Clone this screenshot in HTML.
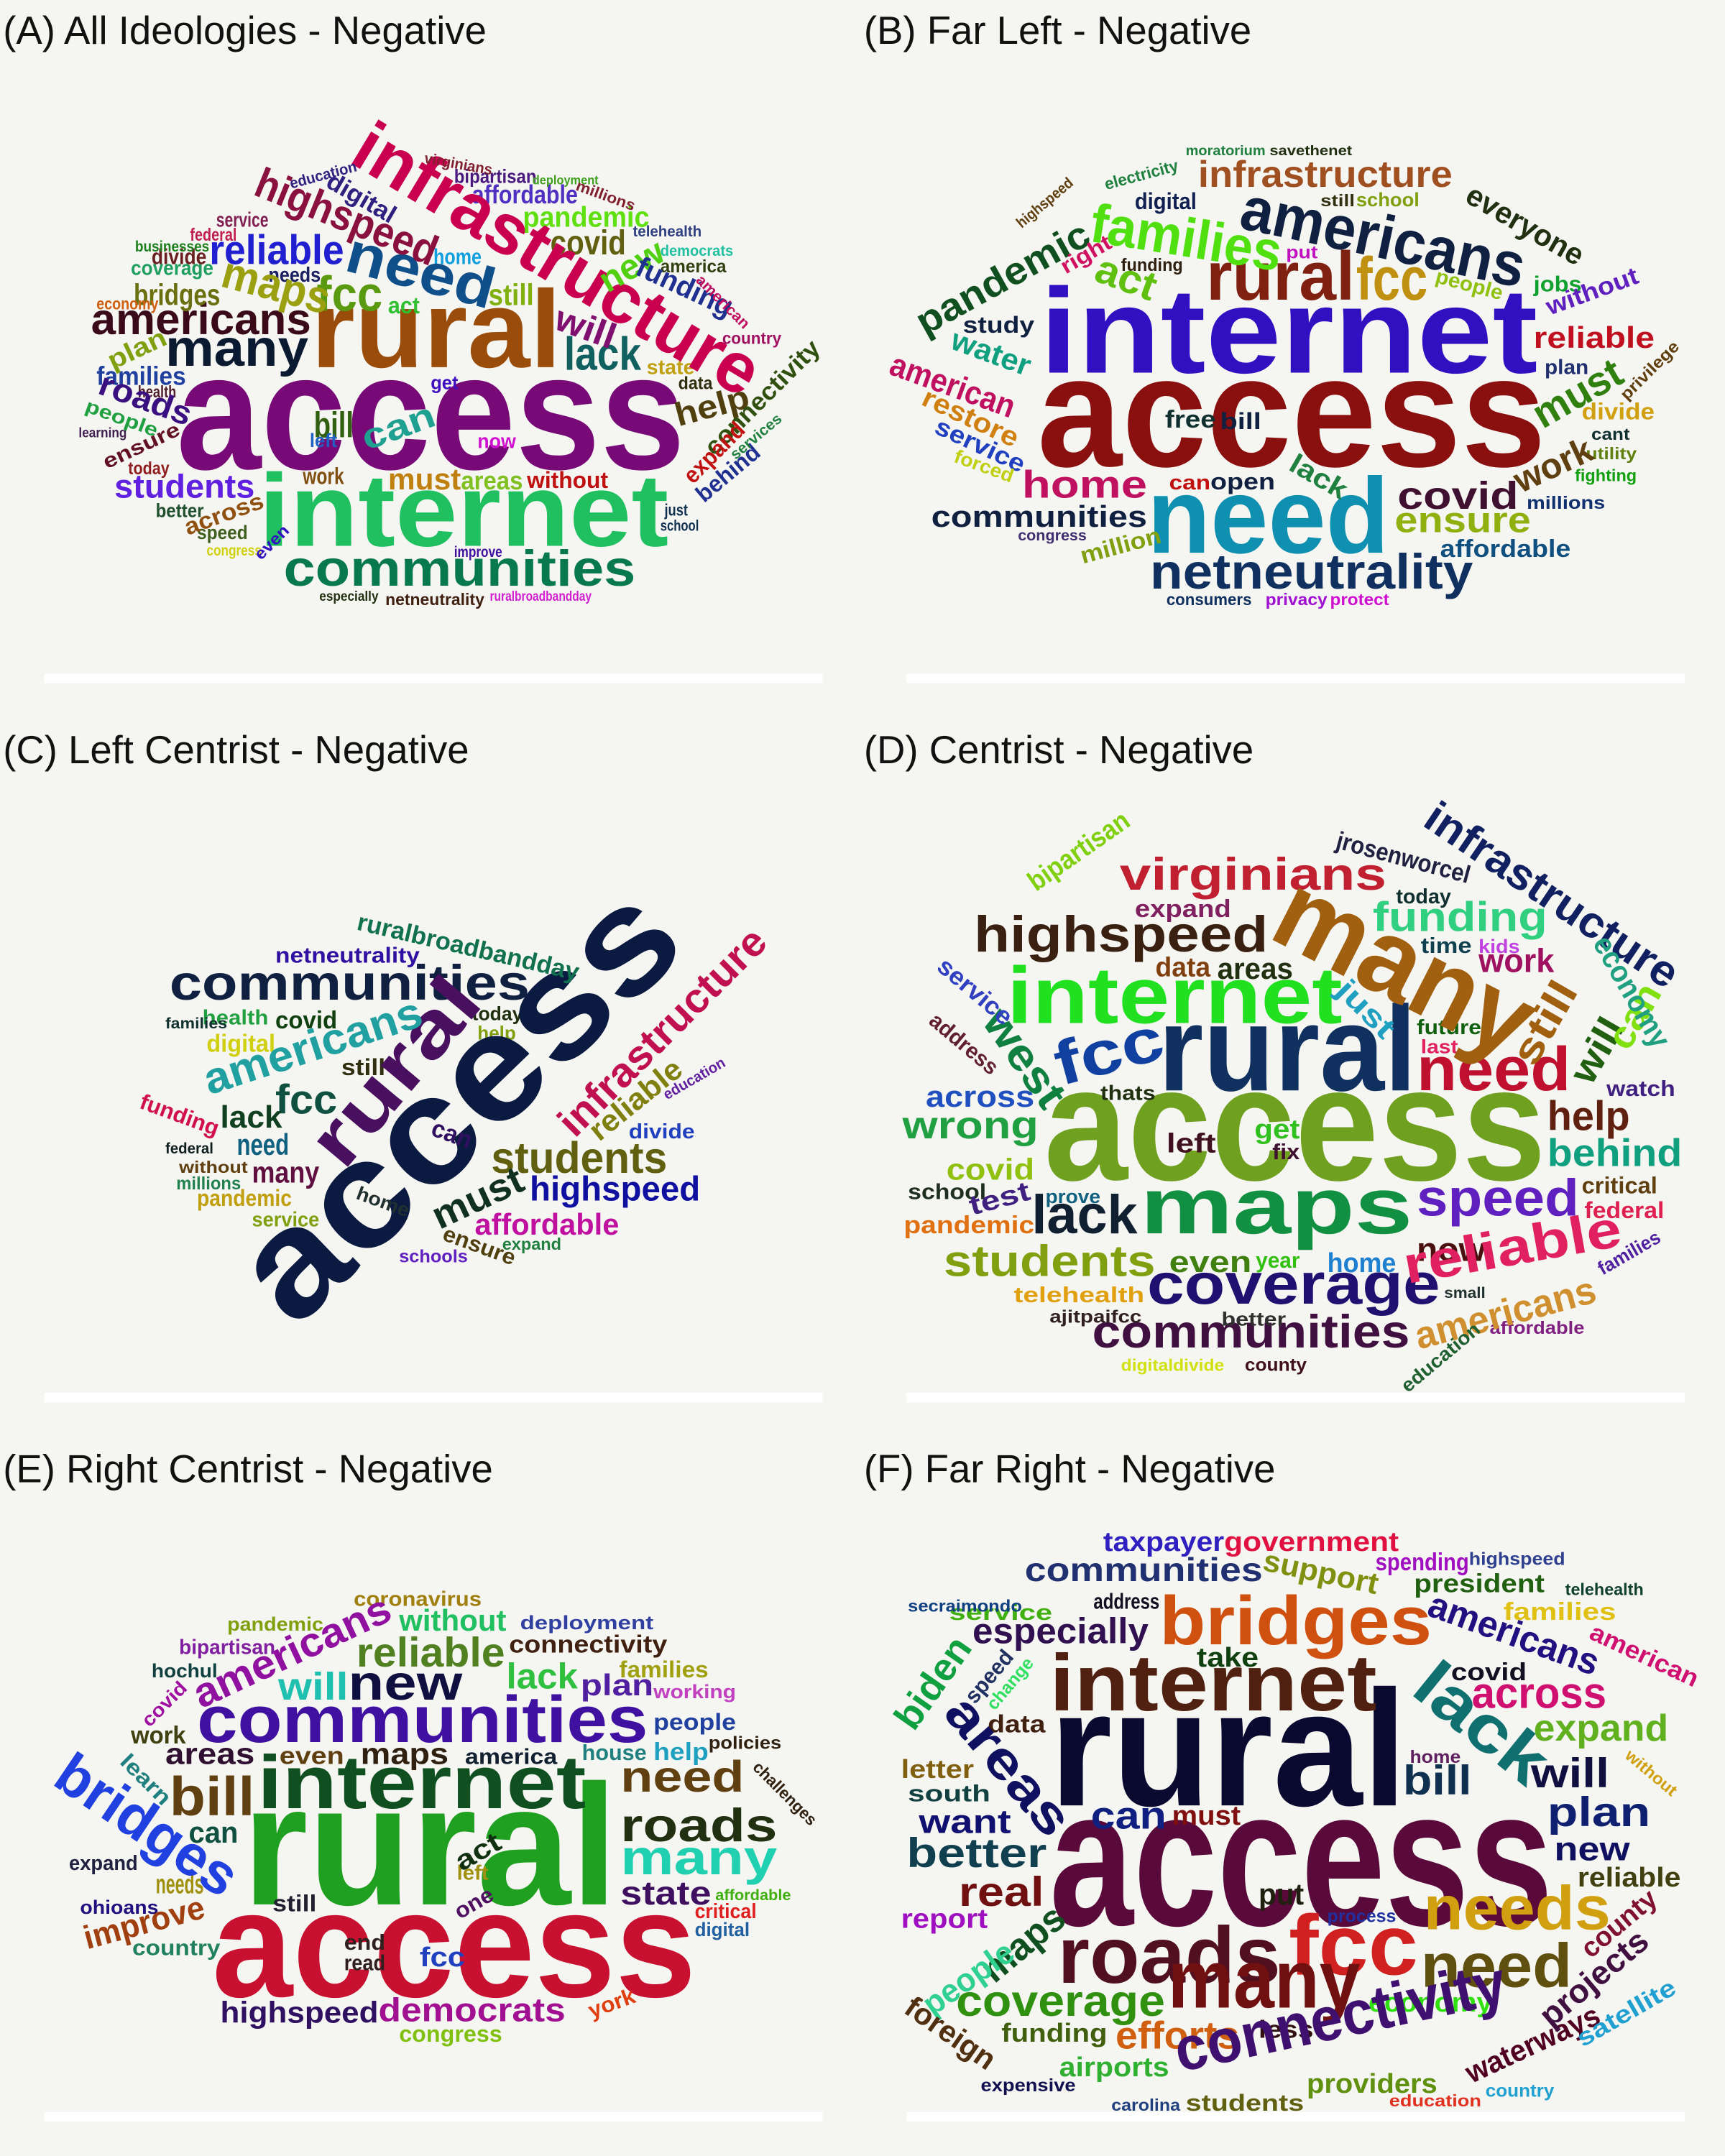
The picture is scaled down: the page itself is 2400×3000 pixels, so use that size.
<!DOCTYPE html>
<html><head><meta charset="utf-8"><style>
html,body{margin:0;padding:0;background:#f5f5f1;}
svg{display:block}
.t{font-family:"Liberation Sans",sans-serif;font-size:28.5px;fill:#111}
.w{font-family:"Liberation Sans","DejaVu Sans",sans-serif;font-weight:bold}
</style></head><body>
<svg id="root" width="2400" height="3000" viewBox="0 0 1254 1568" xmlns="http://www.w3.org/2000/svg">
<rect width="1254" height="1568" fill="#f5f5f1"/>
<text class="t" x="2" y="32">(A) All Ideologies - Negative</text>
<text class="t" x="628" y="32">(B) Far Left - Negative</text>
<text class="t" x="2" y="555">(C) Left Centrist - Negative</text>
<text class="t" x="628" y="555">(D) Centrist - Negative</text>
<text class="t" x="2" y="1078">(E) Right Centrist - Negative</text>
<text class="t" x="628" y="1078">(F) Far Right - Negative</text>
<rect x="32" y="490" width="566" height="7" fill="#fff"/>
<rect x="659" y="490" width="566" height="7" fill="#fff"/>
<rect x="32" y="1013" width="566" height="7" fill="#fff"/>
<rect x="659" y="1013" width="566" height="7" fill="#fff"/>
<rect x="32" y="1536" width="566" height="7" fill="#fff"/>
<rect x="659" y="1536" width="566" height="7" fill="#fff"/>
<g id="words"></g>
</svg>
<script>
// H: [text, left, right, baseline, size, color]; R: [text, cx, cy, size, color, rotation, length]
const H = [
// A
["access",128,498,341,120,"#780a78"],["internet",188,486,397,75,"#20c060"],["rural",226,408,267,80,"#9a4c0a"],
["communities",206,462,426,37,"#087850"],["americans",66,226,243,32,"#3a0a1a"],["many",120,224,266,38,"#0a1a30"],
["reliable",152,250,192,30,"#2020d0"],["fcc",230,278,226,36,"#5a9a10"],["lack",410,466,269,34,"#106060"],
["students",83,185,362,24,"#6020e0"],["bill",228,257,318,26,"#306010"],["must",282,335,356,22,"#c08010"],
["areas",335,380,356,19,"#80c020"],["without",383,442,355,17,"#c01010"],["covid",400,455,185,25,"#606010"],
["pandemic",380,472,165,21,"#60e010"],["affordable",343,420,148,19,"#5030c0"],["bipartisan",330,390,133,14,"#4a1a80"],
["bridges",97,160,222,22,"#6a7010"],["still",355,388,222,22,"#80b010"],["families",70,135,280,19,"#2040a0"],
["coverage",95,155,200,15,"#20a060"],["divide",110,150,192,16,"#6a2020"],["businesses",98,152,183,11,"#208020"],
["federal",138,172,175,13,"#c02050"],["service",157,195,165,15,"#802050"],["economy",70,115,225,12,"#d06010"],
["work",220,250,352,17,"#805010"],["today",93,123,345,13,"#902020"],["speed",143,180,392,14,"#406020"],
["congress",150,190,404,11,"#d0d010"],["now",347,375,326,15,"#d010d0"],["state",470,505,272,15,"#c0a010"],
["just",483,500,375,12,"#103050"],["school",480,508,386,11,"#103050"],["netneutrality",280,352,440,12,"#402010"],
["ruralbroadbandday",356,430,437,10,"#d020d0"],["especially",232,275,437,10,"#203010"],["home",315,350,192,16,"#10a0e0"],
["country",525,568,250,12,"#a01060"],["data",493,518,283,13,"#303010"],["america",480,528,198,13,"#304010"],
["telehealth",460,510,172,11,"#304080"],["democrats",480,533,186,11,"#20c0a0"],["left",225,245,325,14,"#2060c0"],
["get",313,333,283,14,"#4010c0"],["learning",57,92,318,10,"#402050"],["needs",195,233,205,15,"#1a2060"],
["act",282,305,228,17,"#30c030"],["better",113,148,376,14,"#205030"],["deployment",387,435,134,9,"#40a020"],
["improve",330,365,405,11,"#4010a0"],["health",100,128,289,12,"#502030"],
// B
["access",754,1124,339,115,"#8a1010"],["internet",756,1118,271,88,"#3010c0"],["need",834,1010,402,78,"#1090b0"],
["netneutrality",836,1071,428,36,"#103060"],["rural",877,985,218,50,"#802010"],["fcc",986,1038,218,44,"#c09010"],
["infrastructure",871,1056,136,27,"#a05020"],["digital",825,870,152,17,"#102050"],["home",743,834,362,28,"#c01060"],
["communities",677,834,383,22,"#102040"],["covid",1016,1104,370,28,"#401030"],["ensure",1014,1113,387,26,"#90b010"],
["affordable",1047,1142,405,18,"#105080"],["reliable",1115,1203,253,22,"#c01020"],["study",700,752,242,17,"#102040"],
["free",847,884,311,18,"#103030"],["bill",887,917,312,17,"#102040"],["open",880,927,356,17,"#102040"],
["can",850,880,356,15,"#c01010"],["divide",1150,1203,305,17,"#d0a010"],["fighting",1145,1190,350,12,"#10a010"],
["millions",1110,1167,370,13,"#103070"],["jobs",1115,1150,212,16,"#10a030"],["plan",1123,1155,272,15,"#203070"],
["school",986,1032,150,14,"#80a010"],["still",960,985,150,12,"#303010"],["put",935,958,188,13,"#c010c0"],
["funding",815,860,197,13,"#302010"],["privacy",920,965,440,12,"#a010d0"],["protect",967,1010,440,12,"#d010d0"],
["consumers",848,910,440,12,"#103060"],["moratorium",862,920,113,10,"#208040"],["savethenet",923,983,113,10,"#203010"],
["utility",1153,1190,334,12,"#608010"],["cant",1157,1185,320,12,"#103030"],["congress",740,790,393,11,"#403070"],
// C
["communities",123,385,727,36,"#102040"],["students",357,485,853,32,"#606010"],["highspeed",385,509,873,25,"#1010a0"],
["fcc",200,245,810,30,"#105040"],["lack",160,205,820,23,"#104020"],["need",172,210,840,22,"#106080"],
["many",183,232,860,22,"#601040"],["affordable",345,450,898,22,"#c010a0"],["netneutrality",200,305,700,16,"#3010a0"],
["covid",200,245,748,18,"#104010"],["digital",150,200,765,18,"#d0d010"],["health",147,195,745,15,"#20a040"],
["pandemic",143,212,877,17,"#c0a010"],["service",183,232,892,15,"#80a010"],["divide",457,505,828,15,"#2040c0"],
["today",343,380,742,14,"#203010"],["still",248,280,782,17,"#303010"],["millions",128,175,865,13,"#208050"],
["families",120,165,748,11,"#103030"],["federal",120,155,839,11,"#102020"],["without",130,180,853,12,"#604010"],
["help",347,375,756,14,"#80a010"],["expand",365,408,909,12,"#208040"],["schools",290,340,918,13,"#6020c0"],
// D
["access",759,1124,858,118,"#70a020"],["maps",829,1027,897,58,"#109040"],["rural",842,1030,793,88,"#103060"],
["internet",732,976,744,58,"#20e020"],["highspeed",708,922,692,37,"#3a2010"],["virginians",814,1008,647,33,"#c02030"],
["coverage",834,1047,948,42,"#201070"],["communities",794,1025,980,34,"#401040"],["need",1030,1142,793,45,"#c01030"],
["lack",750,827,897,40,"#102030"],["speed",1030,1148,884,38,"#6020c0"],["students",686,840,928,32,"#80a010"],
["help",1125,1185,822,30,"#602010"],["behind",1125,1223,848,28,"#10a080"],["funding",998,1125,677,30,"#30d080"],
["wrong",656,755,828,28,"#20a040"],["across",673,752,805,22,"#2050c0"],["covid",688,752,858,22,"#90c010"],
["pandemic",657,752,897,18,"#e07010"],["school",660,717,872,16,"#203020"],["areas",885,940,712,22,"#203010"],
["data",840,880,710,20,"#804010"],["expand",825,895,667,18,"#802060"],["work",1075,1130,707,24,"#a01060"],
["left",848,884,838,20,"#401020"],["get",912,945,828,20,"#30c020"],["fix",925,945,843,16,"#401030"],
["even",850,910,925,22,"#408010"],["year",913,945,922,16,"#30c010"],["home",965,1015,925,20,"#2080d0"],
["now",1030,1080,917,24,"#4a1010"],["telehealth",737,832,947,16,"#e0a010"],["critical",1150,1205,868,17,"#604010"],
["federal",1152,1210,886,17,"#e02050"],["watch",1168,1218,797,16,"#402080"],["time",1033,1070,693,16,"#104050"],
["today",1015,1055,657,15,"#103030"],["kids",1075,1105,693,14,"#c040e0"],["future",1030,1077,752,15,"#106010"],
["last",1033,1060,766,14,"#e02060"],["affordable",1083,1152,970,13,"#802080"],["ajitpaifcc",763,830,962,13,"#302020"],
["better",888,935,964,14,"#303030"],["county",905,950,997,13,"#401020"],["digitaldivide",815,890,997,12,"#d0e010"],
["small",1050,1080,944,11,"#203030"],["thats",800,840,800,15,"#203010"],["prove",760,800,875,14,"#106080"],
// E
["access",154,506,1452,110,"#c81030"],["rural",176,449,1385,125,"#20a020"],["internet",187,426,1315,55,"#105020"],
["communities",143,471,1267,48,"#4010a0"],["new",253,336,1236,36,"#101040"],["reliable",259,367,1212,30,"#508020"],
["will",202,253,1236,28,"#20c0b0"],["bill",123,185,1320,40,"#604010"],["areas",120,185,1283,22,"#301030"],
["can",137,173,1340,22,"#105040"],["needs",113,148,1377,20,"#a09010"],["country",96,160,1422,16,"#208060"],
["expand",50,100,1360,15,"#202040"],["work",95,135,1268,18,"#404010"],["roads",451,565,1339,34,"#203010"],
["need",451,541,1303,32,"#604010"],["many",451,565,1363,36,"#20d0b0"],["state",451,517,1385,24,"#401060"],
["help",475,515,1280,18,"#20a0c0"],["people",475,535,1258,17,"#2040a0"],["plan",422,475,1233,22,"#5020a0"],
["lack",368,420,1228,26,"#30c040"],["without",290,368,1186,22,"#20c060"],["connectivity",370,485,1202,18,"#402010"],
["families",450,515,1220,17,"#a0a010"],["deployment",378,475,1185,14,"#3040a0"],["maps",262,326,1283,22,"#302010"],
["even",203,250,1283,18,"#604010"],["america",338,405,1283,16,"#102030"],["house",423,470,1280,16,"#208080"],
["highspeed",160,275,1471,22,"#301060"],["democrats",275,411,1470,24,"#a01090"],["congress",290,365,1485,17,"#80c010"],
["fcc",305,338,1430,20,"#2040c0"],["critical",505,550,1395,15,"#e02020"],["affordable",520,575,1382,11,"#40b010"],
["digital",505,545,1408,14,"#2060a0"],["coronavirus",257,350,1168,15,"#a08010"],["pandemic",165,235,1186,14,"#80a010"],
["bipartisan",130,200,1203,15,"#8020a0"],["hochul",110,158,1220,14,"#104040"],["still",198,230,1390,17,"#202030"],
["ohioans",58,115,1392,14,"#201080"],["left",332,355,1367,15,"#a09010"],["end",250,280,1418,16,"#302020"],
["read",250,280,1433,16,"#302020"],["policies",515,568,1272,13,"#302010"],["working",475,535,1235,14,"#c040c0"],
// F
["access",763,1129,1400,142,"#5a0a3a"],["rural",763,1023,1313,120,"#0a0a30"],["internet",763,1001,1244,58,"#502010"],
["bridges",843,1041,1196,50,"#d05010"],["roads",769,931,1442,58,"#501020"],["fcc",937,1031,1436,62,"#d02020"],
["many",849,989,1460,60,"#701010"],["needs",1035,1171,1403,45,"#d0a010"],["need",1033,1143,1445,45,"#605010"],
["coverage",695,847,1466,32,"#309010"],["better",659,761,1358,30,"#104050"],["real",697,759,1386,30,"#701010"],
["plan",1125,1200,1328,30,"#102070"],["across",1070,1168,1242,32,"#d01070"],["expand",1115,1213,1266,27,"#60b020"],
["will",1113,1170,1300,30,"#101040"],["bill",1020,1070,1305,30,"#103050"],["especially",707,835,1195,26,"#301050"],
["communities",745,918,1150,24,"#203070"],["taxpayer",802,890,1128,20,"#3020c0"],["government",890,1017,1128,20,"#e01040"],
["spending",1000,1068,1142,18,"#a010c0"],["president",1028,1123,1158,19,"#206010"],["families",1093,1175,1178,18,"#e0c010"],
["address",795,843,1170,16,"#101020"],["service",690,765,1178,16,"#40b010"],["can",793,848,1330,28,"#102080"],
["must",852,902,1327,20,"#801010"],["want",668,735,1333,24,"#101070"],["put",915,948,1385,22,"#202010"],
["report",655,718,1402,20,"#a010c0"],["efforts",811,901,1490,28,"#d06010"],["funding",728,805,1485,19,"#406010"],
["airports",770,850,1510,20,"#30b030"],["providers",950,1045,1522,20,"#609010"],["students",862,948,1535,17,"#606010"],
["economy",995,1085,1463,20,"#30e010"],["reliable",1147,1222,1372,20,"#404010"],["new",1130,1185,1353,24,"#101060"],
["letter",655,708,1293,19,"#806010"],["south",660,720,1310,17,"#104040"],["covid",1055,1110,1222,18,"#101020"],
["data",718,760,1260,18,"#402010"],["less",915,955,1482,18,"#301010"],["expensive",713,782,1521,13,"#101050"],
["country",1080,1130,1525,13,"#20a0d0"],["education",1010,1077,1532,12,"#e03020"],["secraimondo",660,743,1172,12,"#104080"],
["highspeed",1068,1138,1138,13,"#304090"],["telehealth",1138,1195,1160,12,"#104030"],["take",870,915,1212,20,"#104010"],
["home",1025,1062,1282,13,"#602060"],["process",965,1015,1398,13,"#2030a0"],["carolina",808,858,1535,12,"#204080"]
];
const R = [
// A
["infrastructure",403,192,52,"#c8004f",31,335],["need",305,200,42,"#10508a",15,110],["highspeed",251,160,31,"#8a1040",22,140],
["maps",200,210,33,"#9aa010",15,80],["digital",262,145,18,"#302080",30,55],["will",425,240,26,"#801070",20,45],
["new",460,195,26,"#50d010",-30,50],["funding",497,210,21,"#203090",25,75],["help",518,297,24,"#504010",-15,55],
["connectivity",555,290,18,"#305010",-45,110],["expand",520,330,17,"#c01010",-45,55],["behind",530,345,17,"#203090",-40,55],
["roads",105,292,24,"#3a1080",20,70],["plan",100,255,19,"#80a010",-25,45],["across",163,375,17,"#905010",-20,60],
["people",88,305,14,"#20a040",20,55],["ensure",103,325,15,"#601020",-25,60],["can",290,312,26,"#20a090",-20,55],
["education",235,128,11,"#302080",-15,50],["virginians",333,120,11,"#802030",10,50],["millions",440,143,11,"#802030",20,45],
["american",525,220,11,"#c01060",45,50],["services",550,318,11,"#208040",-40,45],["even",198,395,12,"#3010c0",-45,30],
// B
["americans",1005,176,45,"#102040",12,210],["families",862,176,40,"#50e010",9,140],["act",818,204,30,"#60c010",20,45],
["pandemic",730,204,28,"#105020",-29,140],["must",1148,288,30,"#308010",-30,70],["work",1130,340,26,"#604010",-25,60],
["everyone",1108,165,22,"#203010",30,95],["american",692,282,24,"#c01060",20,95],["restore",705,305,20,"#d08010",25,75],
["water",720,258,22,"#10a080",20,60],["lack",958,348,20,"#208040",30,45],["million",815,398,17,"#80a010",-15,60],
["without",1158,213,18,"#6020c0",-20,70],["service",712,325,18,"#2040c0",25,70],["people",1068,208,15,"#90c010",15,50],
["highspeed",760,148,11,"#604010",-40,50],["right",790,186,16,"#d01060",-30,40],["privilege",1200,270,12,"#604010",-45,55],
["forced",715,340,14,"#c0d010",20,45],["electricity",830,128,12,"#208040",-15,55],
// C
["access",338,808,110,"#0a1a40",-44,400],["rural",290,782,55,"#4a1060",-50,160],["infrastructure",483,752,30,"#c01050",-45,200],
["americans",228,763,32,"#20a0a0",-18,165],["must",348,873,28,"#103020",-25,70],["reliable",463,801,22,"#808010",-39,80],
["ruralbroadbandday",340,690,18,"#107050",13,165],["ensure",348,907,16,"#504010",20,55],["funding",130,812,16,"#d01050",20,60],
["home",278,875,14,"#203030",20,40],["can",328,826,18,"#301060",20,30],["education",505,785,11,"#6020a0",-30,50],
// D
["many",1019,708,80,"#a06010",27,200],["infrastructure",1127,653,32,"#102060",34,215],["fcc",807,768,45,"#1040a0",-15,80],
["reliable",1100,910,38,"#e02060",-10,160],["americans",1095,957,28,"#d09030",-15,135],["west",743,771,32,"#108040",55,80],
["still",1125,745,30,"#a06010",-60,65],["will",1163,765,28,"#206010",-60,50],["can",1190,740,28,"#80e010",-60,50],
["economy",1185,722,22,"#20a080",60,90],["test",727,873,20,"#402080",-15,45],["just",992,735,22,"#20a0c0",45,50],
["jrosenworcel",1020,625,18,"#202040",15,100],["bipartisan",785,620,20,"#80d010",-35,85],["education",1048,988,14,"#206030",-40,70],
["service",708,722,18,"#3040c0",40,65],["address",700,760,16,"#602030",40,60],["families",1185,912,14,"#5020a0",-30,50],
// E
["americans",213,1203,30,"#9010a0",-25,155],["bridges",105,1330,42,"#2040e0",34,150],["improve",105,1400,24,"#a04010",-15,90],
["act",348,1348,20,"#103010",-30,35],["york",445,1458,16,"#e04010",-20,35],["learn",105,1295,16,"#208080",45,45],
["challenges",570,1305,12,"#302010",45,60],["covid",120,1240,14,"#a010a0",-45,40],["one",345,1385,16,"#501060",-30,30],
// F
["connectivity",975,1470,45,"#401070",-12,245],["lack",1075,1256,48,"#107070",39,110],["areas",731,1286,38,"#101060",50,120],
["americans",1100,1190,27,"#201080",20,130],["support",960,1145,22,"#809010",12,85],["american",1195,1205,18,"#d01070",25,85],
["biden",680,1225,28,"#10a040",-55,75],["maps",745,1415,28,"#105020",-40,70],["people",705,1440,24,"#30d090",-35,75],
["foreign",690,1480,22,"#503010",35,75],["waterways",1115,1488,22,"#500020",-25,105],["projects",1160,1440,24,"#401040",-40,95],
["county",1178,1400,20,"#801030",-40,65],["satellite",1183,1465,18,"#20a0d0",-30,80],["speed",720,1220,16,"#203060",-50,45],
["without",1200,1290,12,"#d0a010",40,45],["change",735,1225,13,"#30e060",-50,45]
];
const NS = "http://www.w3.org/2000/svg";
const g = document.getElementById("words");
let i = 0;
for (const w of H) {
  const el = document.createElementNS(NS, "text");
  el.setAttribute("class", "w");
  el.setAttribute("x", (w[1] + w[2]) / 2);
  el.setAttribute("y", w[3]);
  el.setAttribute("font-size", w[4]);
  el.setAttribute("fill", w[5]);
  el.setAttribute("text-anchor", "middle");
  el.setAttribute("textLength", w[2] - w[1]);
  el.setAttribute("lengthAdjust", "spacingAndGlyphs");
  el.textContent = w[0];
  
  
  g.appendChild(el);
}
for (const w of R) {
  const el = document.createElementNS(NS, "text");
  el.setAttribute("class", "w");
  el.setAttribute("x", 0);
  el.setAttribute("y", w[3] * 0.26);
  el.setAttribute("font-size", w[3]);
  el.setAttribute("fill", w[4]);
  el.setAttribute("text-anchor", "middle");
  el.setAttribute("textLength", w[6]);
  el.setAttribute("lengthAdjust", "spacingAndGlyphs");
  el.setAttribute("transform", "translate(" + w[1] + "," + w[2] + ") rotate(" + w[5] + ")");
  el.textContent = w[0];
  
  
  g.appendChild(el);
}
</script>
</body></html>
